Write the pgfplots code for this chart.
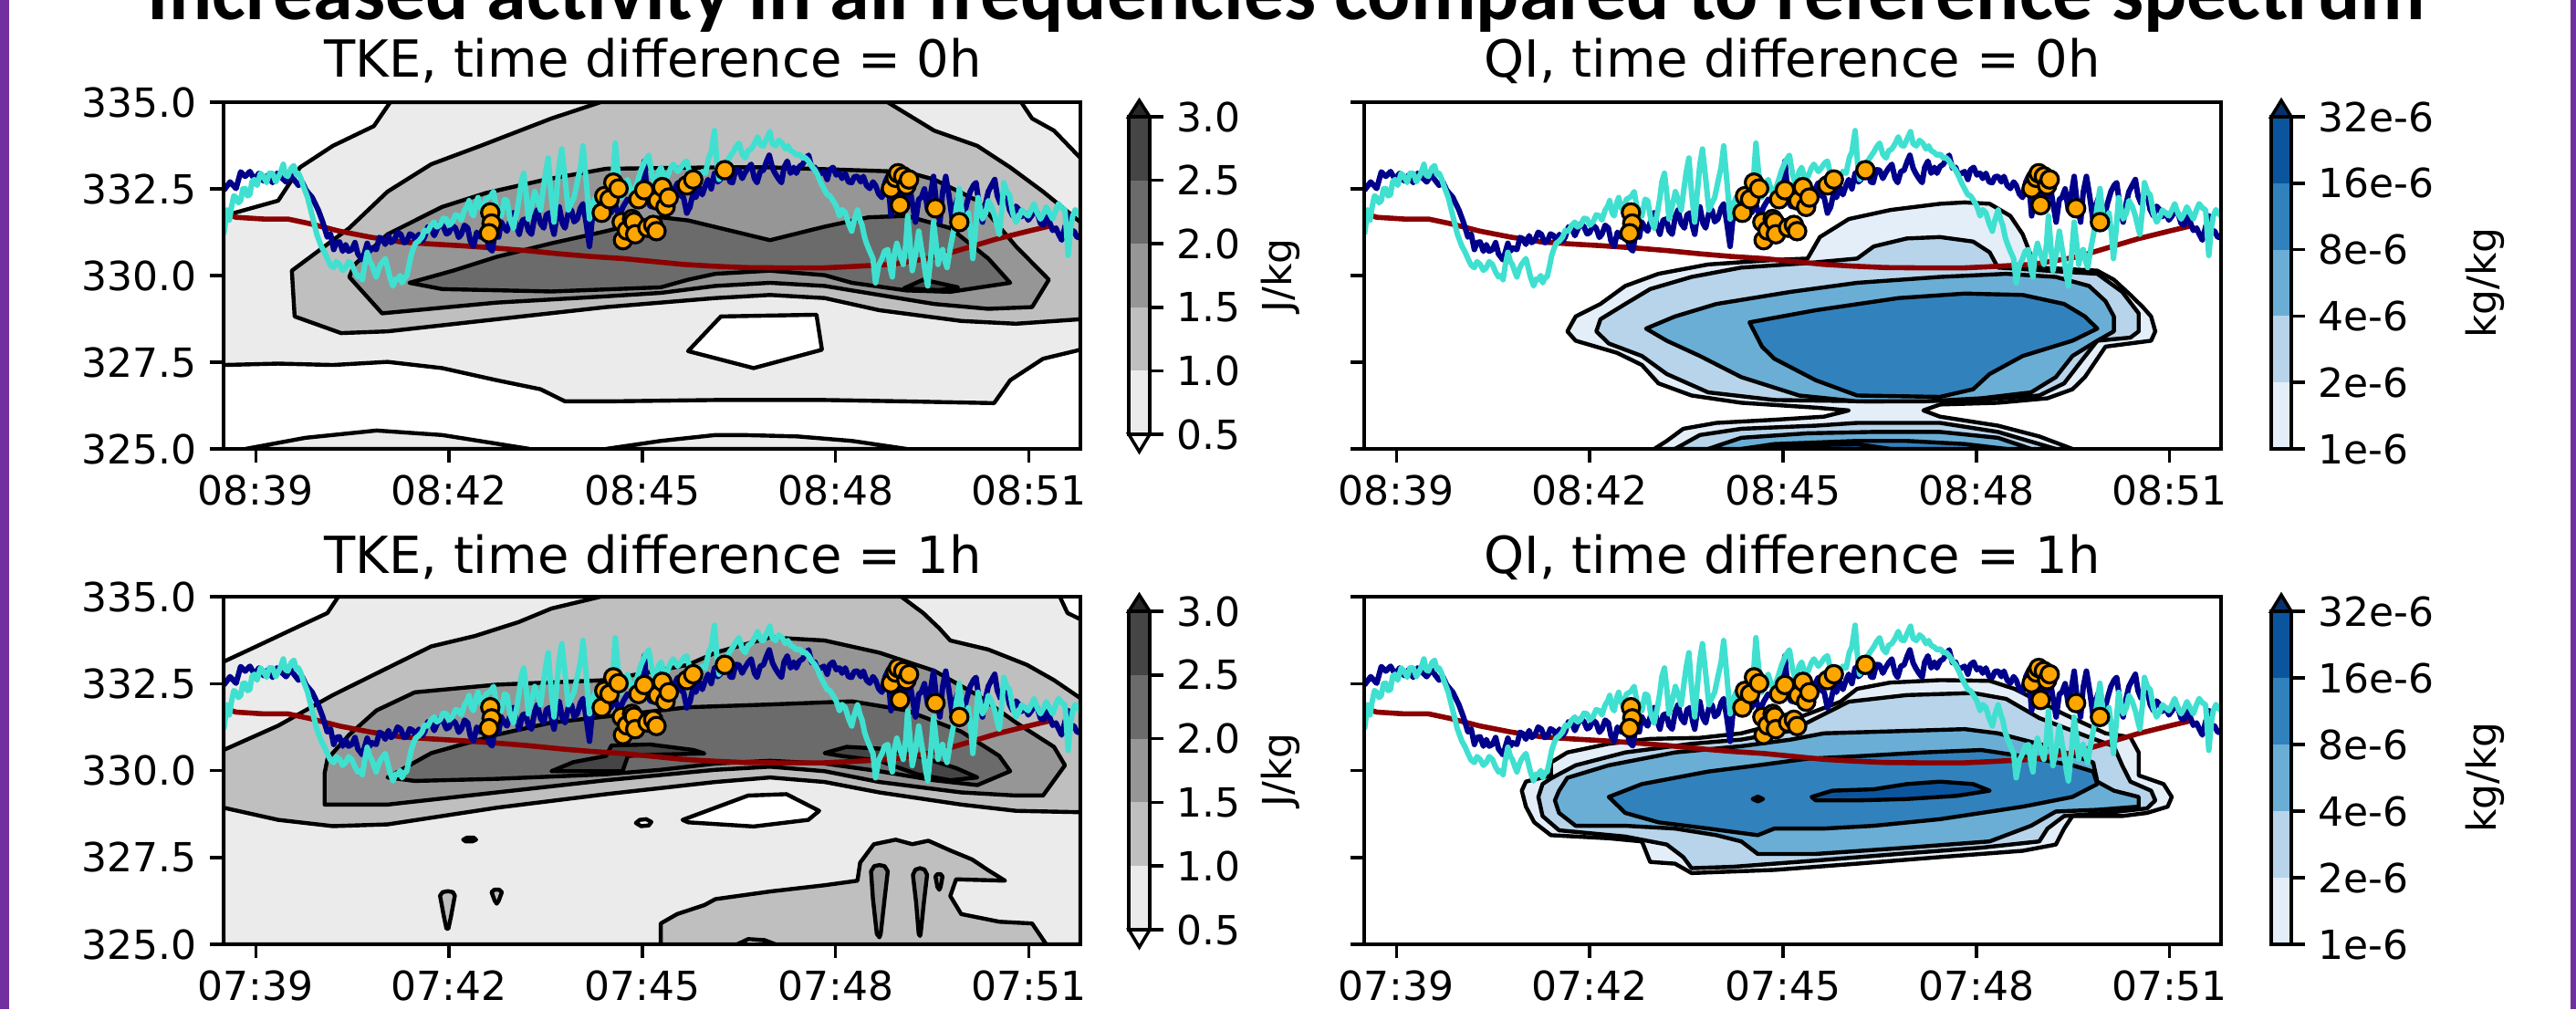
\documentclass[border=0pt]{standalone}
\usepackage{fontspec}
\setmainfont{DejaVu Sans}
\newfontfamily\calibri{Carlito}
\usepackage{pgfplots}
\usepackage{pgfplotstable}
\pgfplotsset{compat=1.18}

\definecolor{gA}{HTML}{EBEBEB}
\definecolor{gB}{HTML}{BFBFBF}
\definecolor{gC}{HTML}{969696}
\definecolor{gD}{HTML}{6B6B6B}
\definecolor{gE}{HTML}{454545}
\definecolor{gF}{HTML}{272727}
\definecolor{bA}{HTML}{E3EEF9}
\definecolor{bB}{HTML}{B7D4EA}
\definecolor{bC}{HTML}{6AAED6}
\definecolor{bD}{HTML}{3181BD}
\definecolor{bE}{HTML}{0B559F}
\definecolor{bF}{HTML}{08306B}
\definecolor{navyl}{RGB}{0,0,139}
\definecolor{turq}{HTML}{40E0D0}
\definecolor{dred}{HTML}{8B0000}
\definecolor{orng}{HTML}{FFA500}
\definecolor{purp}{HTML}{7030A0}

\pgfplotstableread[row sep=\\]{x y\\
-0.495 332.46\\ -0.40 332.70\\ -0.306 332.51\\ -0.235 332.99\\ -0.164 332.86\\ -0.09 333.00\\ -0.022 332.77\\ 0.05 332.95\\ 0.12 332.73\\ 0.19 332.90\\
0.261 332.68\\ 0.33 332.95\\ 0.403 332.82\\ 0.47 332.70\\ 0.545 332.90\\ 0.60 332.75\\ 0.663 332.60\\ 0.72 332.70\\ 0.781 332.46\\ 0.876 332.25\\
0.97 331.89\\ 1.04 331.54\\ 1.11 331.11\\ 1.16 331.20\\ 1.21 330.75\\ 1.25 330.95\\ 1.30 330.97\\ 1.35 330.70\\ 1.395 330.89\\ 1.44 330.70\\
1.49 330.75\\ 1.54 330.95\\ 1.585 330.62\\ 1.655 330.45\\ 1.73 330.93\\ 1.77 330.70\\ 1.80 330.80\\ 1.87 330.75\\ 1.92 331.10\\ 1.96 331.06\\
2.01 330.90\\ 2.06 331.15\\ 2.10 330.95\\ 2.15 331.02\\ 2.20 331.25\\ 2.25 331.19\\ 2.30 330.95\\ 2.34 330.97\\ 2.39 331.20\\ 2.44 331.15\\
2.49 330.98\\ 2.53 331.19\\ 2.58 331.00\\ 2.62 331.11\\ 2.67 331.40\\ 2.72 331.37\\ 2.77 331.15\\ 2.81 331.32\\ 2.86 331.50\\ 2.91 331.41\\
2.96 331.20\\ 3.00 331.24\\ 3.05 331.45\\ 3.10 331.37\\ 3.15 331.10\\ 3.19 331.19\\ 3.24 331.45\\ 3.29 331.37\\ 3.33 331.00\\ 3.38 330.84\\
3.43 331.25\\ 3.48 331.11\\ 3.53 331.35\\ 3.57 331.19\\ 3.62 330.80\\ 3.67 330.71\\ 3.72 331.30\\ 3.77 331.11\\ 3.81 331.54\\ 3.86 331.37\\
3.90 331.28\\ 3.95 331.60\\ 4.00 331.81\\ 4.05 331.40\\ 4.09 331.19\\ 4.14 331.60\\ 4.19 331.63\\ 4.23 331.30\\ 4.28 331.19\\ 4.33 331.70\\
4.37 331.89\\ 4.42 331.50\\ 4.47 331.37\\ 4.51 331.75\\ 4.56 331.81\\ 4.60 331.40\\ 4.63 331.19\\ 4.67 331.70\\ 4.71 331.98\\ 4.76 331.50\\
4.80 331.37\\ 4.85 331.80\\ 4.90 331.89\\ 4.94 331.55\\ 4.99 331.63\\ 5.04 331.95\\ 5.08 332.07\\ 5.13 331.50\\ 5.18 330.84\\ 5.22 331.60\\
5.27 331.98\\ 5.32 331.70\\ 5.37 331.89\\ 5.44 332.10\\ 5.51 331.80\\ 5.58 332.05\\ 5.64 331.70\\ 5.70 331.98\\ 5.77 332.20\\ 5.84 332.16\\
5.90 332.40\\ 5.95 332.05\\ 6.03 333.30\\ 6.08 332.25\\ 6.12 332.00\\ 6.17 331.98\\ 6.24 332.30\\ 6.31 332.07\\ 6.38 332.40\\ 6.46 332.25\\
6.50 332.50\\ 6.55 332.68\\ 6.60 332.30\\ 6.64 332.25\\ 6.69 331.80\\ 6.74 331.98\\ 6.79 332.40\\ 6.83 332.25\\ 6.88 332.55\\ 6.93 332.33\\
6.98 332.60\\ 7.02 332.77\\ 7.07 332.50\\ 7.12 332.95\\ 7.17 332.70\\ 7.21 332.77\\ 7.26 333.00\\ 7.31 333.12\\ 7.36 332.70\\ 7.40 332.68\\
7.45 333.05\\ 7.50 333.04\\ 7.55 332.80\\ 7.59 332.95\\ 7.64 333.10\\ 7.69 333.21\\ 7.74 332.80\\ 7.78 332.68\\ 7.83 333.00\\ 7.88 333.04\\
7.93 333.30\\ 7.97 333.47\\ 8.02 333.10\\ 8.06 332.95\\ 8.11 332.80\\ 8.16 332.68\\ 8.20 333.12\\ 8.25 333.30\\ 8.30 332.95\\ 8.35 333.12\\
8.39 332.95\\ 8.44 333.15\\ 8.49 333.21\\ 8.53 333.35\\ 8.58 333.47\\ 8.63 333.10\\ 8.68 333.12\\ 8.72 332.90\\ 8.77 332.95\\ 8.82 333.00\\
8.87 332.77\\ 8.91 333.05\\ 8.96 333.12\\ 9.01 332.90\\ 9.06 332.95\\ 9.10 332.80\\ 9.15 332.95\\ 9.20 332.70\\ 9.25 332.68\\ 9.29 332.85\\
9.34 332.86\\ 9.39 332.70\\ 9.43 332.86\\ 9.48 332.60\\ 9.53 332.51\\ 9.58 332.70\\ 9.62 332.60\\ 9.67 332.35\\ 9.72 332.25\\ 9.77 332.70\\
9.81 332.86\\ 9.86 331.72\\ 9.91 332.40\\ 9.95 332.25\\ 10.00 332.60\\ 10.05 331.89\\ 10.10 332.30\\ 10.14 332.68\\ 10.19 332.10\\ 10.24 331.54\\
10.29 332.20\\ 10.33 332.25\\ 10.38 332.50\\ 10.43 331.89\\ 10.48 332.40\\ 10.52 332.86\\ 10.57 332.00\\ 10.62 331.54\\ 10.66 332.40\\ 10.71 332.86\\
10.76 332.30\\ 10.81 331.63\\ 10.85 332.00\\ 10.90 332.25\\ 10.95 332.00\\ 10.99 331.72\\ 11.04 332.10\\ 11.09 332.42\\ 11.14 332.60\\ 11.18 332.68\\
11.23 332.00\\ 11.28 331.54\\ 11.33 332.10\\ 11.37 332.42\\ 11.42 332.60\\ 11.47 332.77\\ 11.51 332.30\\ 11.56 332.07\\ 11.61 332.30\\ 11.66 332.25\\
11.70 331.90\\ 11.75 331.72\\ 11.80 332.00\\ 11.85 331.89\\ 11.89 331.70\\ 11.94 331.81\\ 11.99 331.60\\ 12.04 331.72\\ 12.08 331.85\\ 12.13 331.81\\
12.18 331.50\\ 12.23 331.46\\ 12.27 331.70\\ 12.32 331.54\\ 12.37 331.30\\ 12.42 331.37\\ 12.46 331.20\\ 12.51 331.02\\ 12.56 331.40\\ 12.61 331.72\\
12.65 331.30\\ 12.70 331.28\\ 12.75 331.10\\ 12.80 331.11\\
}\navytab

\pgfplotstableread[row sep=\\]{x y\\
-0.495 331.19\\ -0.447 331.89\\ -0.41 331.60\\ -0.377 331.98\\ -0.34 332.30\\ -0.306 332.25\\ -0.27 332.10\\ -0.235 332.16\\ -0.20 332.50\\ -0.164 332.51\\
-0.13 332.30\\ -0.093 332.33\\ -0.06 332.70\\ -0.022 332.77\\ 0.02 332.60\\ 0.073 332.95\\ 0.12 332.85\\ 0.167 332.68\\ 0.21 332.95\\ 0.261 332.95\\
0.31 332.70\\ 0.356 332.86\\ 0.39 333.00\\ 0.427 333.21\\ 0.46 332.90\\ 0.497 332.86\\ 0.55 333.10\\ 0.592 333.17\\ 0.63 332.90\\ 0.663 332.95\\
0.70 332.80\\ 0.734 332.60\\ 0.805 332.25\\ 0.876 331.72\\ 0.947 331.19\\ 1.017 330.84\\ 1.06 330.70\\ 1.11 330.49\\ 1.16 330.30\\ 1.21 330.23\\
1.25 330.40\\ 1.30 330.32\\ 1.35 330.15\\ 1.395 330.23\\ 1.44 330.40\\ 1.49 330.32\\ 1.54 330.10\\ 1.585 329.96\\ 1.62 330.00\\ 1.655 329.88\\
1.69 330.30\\ 1.73 330.67\\ 1.77 330.40\\ 1.80 330.32\\ 1.84 330.10\\ 1.87 329.96\\ 1.91 330.20\\ 1.94 330.32\\ 2.01 330.49\\ 2.05 330.20\\
2.08 329.96\\ 2.13 329.70\\ 2.17 329.90\\ 2.20 329.88\\ 2.24 330.00\\ 2.27 329.79\\ 2.31 329.95\\ 2.34 329.96\\ 2.38 330.30\\ 2.41 330.58\\
2.45 330.80\\ 2.48 330.93\\ 2.53 331.00\\ 2.58 331.11\\ 2.62 331.30\\ 2.67 331.28\\ 2.72 331.45\\ 2.77 331.54\\ 2.81 331.40\\ 2.86 331.46\\
2.91 331.65\\ 2.96 331.63\\ 3.00 331.45\\ 3.05 331.54\\ 3.10 331.75\\ 3.15 331.72\\ 3.19 331.60\\ 3.24 331.89\\ 3.28 332.00\\ 3.31 332.16\\
3.35 331.80\\ 3.38 331.72\\ 3.42 332.10\\ 3.45 332.25\\ 3.49 331.95\\ 3.52 331.89\\ 3.57 332.20\\ 3.62 332.25\\ 3.65 332.30\\ 3.69 332.42\\
3.73 332.00\\ 3.77 331.89\\ 3.81 331.72\\ 3.86 332.20\\ 3.90 332.16\\ 3.95 331.60\\ 4.00 331.37\\ 4.05 331.80\\ 4.09 332.25\\ 4.12 332.70\\
4.16 332.95\\ 4.20 332.30\\ 4.23 331.63\\ 4.28 332.00\\ 4.33 332.42\\ 4.37 332.20\\ 4.42 331.89\\ 4.47 332.60\\ 4.50 333.00\\ 4.54 333.39\\
4.58 332.40\\ 4.63 331.54\\ 4.67 332.40\\ 4.71 333.20\\ 4.75 333.65\\ 4.80 332.80\\ 4.85 331.89\\ 4.90 332.10\\ 4.94 332.25\\ 4.99 332.70\\
5.04 333.12\\ 5.08 333.74\\ 5.13 332.70\\ 5.18 331.63\\ 5.22 332.00\\ 5.27 332.25\\ 5.32 332.10\\ 5.37 331.89\\ 5.44 332.00\\ 5.51 332.25\\
5.55 333.00\\ 5.58 333.82\\ 5.62 333.00\\ 5.67 332.25\\ 5.72 332.60\\ 5.77 332.77\\ 5.83 332.40\\ 5.89 332.51\\ 5.94 332.80\\ 5.98 333.04\\
6.04 333.30\\ 6.10 333.47\\ 6.15 332.90\\ 6.20 332.60\\ 6.25 333.00\\ 6.29 333.12\\ 6.34 332.80\\ 6.39 332.86\\ 6.44 333.10\\ 6.48 333.21\\
6.55 333.00\\ 6.60 333.12\\ 6.65 333.25\\ 6.69 333.30\\ 6.74 332.90\\ 6.79 332.68\\ 6.84 332.90\\ 6.88 332.86\\ 6.93 333.00\\ 6.98 332.95\\
7.03 333.40\\ 7.07 333.56\\ 7.12 334.18\\ 7.16 333.20\\ 7.19 332.77\\ 7.24 333.10\\ 7.29 333.21\\ 7.35 333.40\\ 7.41 333.56\\ 7.45 333.70\\
7.50 333.82\\ 7.55 333.50\\ 7.60 333.39\\ 7.64 333.60\\ 7.69 333.65\\ 7.74 333.80\\ 7.79 334.00\\ 7.84 333.75\\ 7.88 333.74\\ 7.93 333.95\\
7.98 334.15\\ 8.02 333.80\\ 8.07 333.74\\ 8.12 333.90\\ 8.17 333.82\\ 8.22 333.65\\ 8.26 333.74\\ 8.30 333.60\\ 8.35 333.55\\ 8.39 333.47\\
8.44 333.50\\ 8.49 333.39\\ 8.53 333.40\\ 8.58 333.30\\ 8.63 333.15\\ 8.68 333.04\\ 8.72 332.90\\ 8.77 332.68\\ 8.82 332.50\\ 8.87 332.33\\
8.91 332.30\\ 8.96 332.16\\ 9.01 332.00\\ 9.06 331.72\\ 9.10 331.90\\ 9.15 331.81\\ 9.20 331.50\\ 9.25 331.28\\ 9.29 331.60\\ 9.34 331.89\\
9.38 331.60\\ 9.41 331.46\\ 9.45 331.10\\ 9.48 330.93\\ 9.53 330.70\\ 9.58 330.49\\ 9.62 329.79\\ 9.67 330.30\\ 9.72 330.49\\ 9.76 330.70\\
9.81 330.75\\ 9.85 330.20\\ 9.88 329.96\\ 9.91 330.60\\ 9.95 330.93\\ 10.00 330.60\\ 10.05 330.32\\ 10.09 330.90\\ 10.12 331.72\\ 10.16 330.80\\
10.19 330.14\\ 10.24 330.60\\ 10.29 331.28\\ 10.33 330.80\\ 10.36 330.49\\ 10.40 330.00\\ 10.43 329.70\\ 10.48 330.60\\ 10.52 331.54\\ 10.56 330.90\\
10.59 330.32\\ 10.62 330.60\\ 10.66 330.75\\ 10.70 330.40\\ 10.73 330.23\\ 10.78 330.80\\ 10.83 331.28\\ 10.87 331.90\\ 10.92 332.51\\ 10.95 332.00\\
10.99 331.37\\ 11.03 331.60\\ 11.06 331.81\\ 11.10 331.20\\ 11.13 330.49\\ 11.17 331.30\\ 11.21 332.25\\ 11.25 331.90\\ 11.28 331.63\\ 11.33 331.80\\
11.37 332.16\\ 11.42 332.00\\ 11.47 331.72\\ 11.51 331.40\\ 11.54 331.19\\ 11.58 331.90\\ 11.61 332.68\\ 11.66 332.40\\ 11.70 332.33\\ 11.75 331.80\\
11.80 331.54\\ 11.85 331.70\\ 11.89 331.89\\ 11.94 331.80\\ 11.99 331.72\\ 12.04 331.90\\ 12.08 332.07\\ 12.13 331.80\\ 12.18 331.63\\ 12.23 331.80\\
12.27 331.98\\ 12.32 331.80\\ 12.37 331.63\\ 12.42 331.90\\ 12.46 332.07\\ 12.51 331.95\\ 12.56 331.89\\ 12.61 330.58\\ 12.65 331.40\\ 12.68 331.72\\
12.72 331.90\\ 12.75 331.81\\ 12.80 331.72\\
}\turqtab

\pgfplotstableread[row sep=\\]{x y\\
-0.40 331.74\\ -0.306 331.68\\ 0.12 331.63\\ 0.497 331.63\\ 0.83 331.50\\ 1.30 331.28\\ 1.77 331.11\\ 2.25 330.97\\ 2.72 330.91\\ 3.19 330.86\\
3.67 330.80\\ 4.20 330.72\\ 4.75 330.62\\ 5.20 330.55\\ 5.70 330.49\\ 6.20 330.40\\ 6.64 330.32\\ 7.10 330.27\\ 7.59 330.23\\ 8.20 330.22\\
8.80 330.22\\ 9.15 330.25\\ 9.86 330.32\\ 10.20 330.42\\ 10.57 330.54\\ 11.04 330.80\\ 11.51 331.06\\ 11.99 331.28\\ 12.35 331.44\\
}\redtab

\pgfplotstableread[row sep=\\]{x y\\
3.64 331.82\\ 3.66 331.50\\ 3.62 331.22\\ 5.37 331.81\\ 5.41 332.29\\ 5.49 332.20\\ 5.55 332.68\\ 5.63 332.51\\ 5.68 331.54\\ 5.70 331.02\\
5.76 331.30\\ 5.84 331.63\\ 5.87 331.55\\ 5.89 331.19\\ 5.94 332.20\\ 6.03 332.46\\ 6.08 331.38\\ 6.17 331.46\\ 6.22 331.28\\ 6.24 332.16\\
6.31 332.55\\ 6.36 331.98\\ 6.41 332.25\\ 6.69 332.60\\ 6.79 332.77\\ 7.28 333.04\\ 9.86 332.51\\ 9.93 332.82\\ 9.97 332.95\\ 10.05 332.86\\
10.10 332.60\\ 10.14 332.77\\ 10.00 332.03\\ 10.55 331.94\\ 10.92 331.54\\
}\orngtab

\pgfplotsset{
  panel/.style={scale only axis, width=234.75pt, xmin=-0.5, xmax=12.8, ymin=325, ymax=335,
    axis line style={line width=0.88pt}, every tick/.style={black, line width=0.88pt},
    tick align=outside, major tick length=3.75pt, tick pos=left,
    xtick={0,3,6,9,12}, ytick={325,327.5,330,332.5,335},
    tick label style={font=\fontsize{11}{13}\selectfont},
    axis on top, clip=true},
  ct/.style={draw=black, line width=1.1pt, line join=round, fill=#1},
  cbar/.style={scale only axis, xmin=0, xmax=1, xtick=\empty, tick pos=right, tick align=outside,
    major tick length=3.75pt, axis line style={line width=0.88pt}, every tick/.style={black, line width=0.88pt},
    tick label style={font=\fontsize{11}{13}\selectfont}, clip=false, axis on top},
}

\newcommand{\drawlines}{%
  \addplot[dred, line width=1.4pt, line join=round] table {\redtab};
  \addplot[navyl, line width=1.5pt, line join=round] table {\navytab};
  \addplot[turq, line width=1.5pt, line join=round] table {\turqtab};
  \addplot[only marks, mark=*, mark size=2.4pt, mark options={fill=orng, draw=black, line width=0.8pt}] table {\orngtab};
}

\begin{document}
\begin{tikzpicture}
\fill[white] (0,0) rectangle (705.75pt,276.5pt);
\fill[purp] (0,0) rectangle (2.5pt,276.5pt);
\fill[purp] (704.25pt,0) rectangle (705.75pt,276.5pt);
\node[anchor=base, inner sep=0pt] at (352.5pt,271pt) {\calibri\bfseries\fontsize{22}{26}\selectfont Increased activity in all frequencies compared to reference spectrum};

% ---------- Panel 1: TKE 0h
\begin{axis}[panel, at={(61.25pt,153.5pt)}, anchor=south west, height=95pt,
  xticklabels={08:39,08:42,08:45,08:48,08:51}, yticklabels={325.0,327.5,330.0,332.5,335.0}]
\addplot[ct=gA] coordinates {(2.087,335) (1.833,334.31) (1.196,333.74) (0.687,333.12) (0.348,332.16) (-0.5,331.72) (-0.5,327.42) (0.348,327.46) (1.196,327.42) (2.045,327.51) (2.893,327.33) (3.741,326.98) (4.42,326.72) (4.801,326.37) (5.437,326.37) (7.134,326.41) (8.83,326.41) (10.10,326.37) (11.46,326.32) (11.71,326.98) (12.22,327.6) (12.8,327.86) (12.8,333.39) (12.39,334.18) (12.05,334.53) (11.88,335)} --cycle;
\addplot[ct=gA] coordinates {(-0.161,325) (0.772,325.32) (1.875,325.53) (2.893,325.4) (4.08,325.05) (4.25,325)} --cycle;
\addplot[ct=gA] coordinates {(5.437,325) (6.286,325.23) (7.134,325.4) (7.558,325.4) (8.406,325.36) (9.254,325.23) (10.1,325)} --cycle;
\addplot[ct=gB] coordinates {(5.353,335) (4.589,334.53) (3.487,333.74) (2.723,333.21) (2.045,332.42) (1.451,331.37) (0.560,330.14) (0.603,328.82) (1.324,328.34) (2.045,328.39) (3.741,328.74) (5.437,329.09) (7.134,329.35) (7.982,329.44) (8.830,329.35) (9.678,329.00) (10.95,328.69) (11.80,328.61) (12.80,328.74) (12.80,331.54) (12.22,332.42) (11.71,333.12) (11.20,333.74) (10.53,334.18) (9.806,335)} --cycle;
\addplot[ct=gC] coordinates {(5.437,333.08) (4.504,332.77) (3.571,332.38) (2.893,331.98) (2.045,331.19) (1.536,330.32) (1.451,329.96) (1.960,328.91) (3.741,329.22) (5.437,329.40) (6.286,329.50) (7.134,329.70) (7.982,329.79) (8.830,329.70) (9.678,329.44) (10.53,329.18) (11.37,329.04) (12.05,329.09) (12.31,329.88) (11.80,330.84) (11.20,332.16) (10.53,332.77) (10.10,332.99) (7.982,333.12) (7.134,333.12)} --cycle;
\addplot[ct=gD] coordinates {(2.384,329.79) (3.062,330.14) (3.741,330.54) (4.589,330.93) (5.437,331.28) (6.286,331.68) (6.710,331.59) (7.982,331.02) (8.830,331.41) (9.509,331.68) (10.10,331.72) (10.78,331.37) (11.37,330.49) (11.71,329.79) (10.78,329.53) (10.10,329.57) (9.254,329.79) (8.830,330.01) (7.982,330.14) (7.134,330.05) (6.710,329.88) (6.286,329.66) (4.589,329.54) (2.893,329.61)} --cycle;
\addplot[ct=gE] coordinates {(10.06,329.63) (10.36,329.88) (10.90,329.66) (10.61,329.58)} --cycle;
\addplot[ct=white] coordinates {(7.219,328.82) (8.703,328.87) (8.788,327.86) (7.727,327.33) (6.71,327.82)} --cycle;
\drawlines
\end{axis}

% ---------- Panel 2: QI 0h
\begin{axis}[panel, at={(373.75pt,153.5pt)}, anchor=south west, height=95pt,
  xticklabels={08:39,08:42,08:45,08:48,08:51}, yticklabels={{},{},{},{},{}}]
\addplot[ct=bA] coordinates {(6.381,330.49) (6.573,331.11) (7.022,331.63) (7.665,331.89) (8.437,332.07) (8.822,332.11) (9.208,332.07) (9.529,331.72) (9.721,331.19) (9.850,330.58) (9.978,330.23) (10.879,330.14) (11.136,329.88) (11.393,329.44) (11.586,329.09) (11.714,328.82) (11.779,328.39) (11.714,328.12) (11.007,327.95) (10.879,327.60) (10.686,327.07) (10.493,326.72) (10.106,326.46) (9.337,326.33) (8.437,326.28) (8.179,326.11) (8.437,325.93) (9.337,325.67) (9.978,325.36) (10.493,325.0) (4.003,325.0) (4.196,325.23) (4.452,325.58) (4.966,325.75) (5.867,325.84) (6.637,325.93) (7.022,326.11) (6.509,326.19) (5.353,326.33) (4.581,326.54) (4.067,326.89) (3.810,327.42) (3.424,327.77) (2.782,328.12) (2.653,328.39) (2.782,328.82) (3.167,329.18) (3.552,329.70) (4.067,330.05) (4.839,330.32) (5.867,330.45)} --cycle;
\addplot[ct=bB] coordinates {(7.151,330.49) (7.409,330.84) (7.923,331.07) (8.437,331.11) (8.951,330.98) (9.208,330.67) (9.337,330.23) (10.879,330.05) (11.265,329.53) (11.521,328.91) (11.521,328.39) (11.393,328.21) (10.879,328.12) (10.621,327.51) (10.364,326.89) (9.978,326.54) (9.079,326.41) (7.409,326.37) (5.867,326.41) (4.839,326.63) (4.196,327.16) (3.810,327.68) (3.296,328.04) (3.103,328.39) (3.167,328.74) (3.552,329.18) (3.938,329.61) (4.581,329.96) (5.353,330.23) (6.381,330.36)} --cycle;
\addplot[ct=bC] coordinates {(3.874,328.47) (4.324,328.82) (4.966,329.18) (6.123,329.53) (7.151,329.79) (8.437,329.96) (9.464,330.05) (10.235,329.96) (10.75,329.70) (11.007,329.26) (11.136,328.82) (11.136,328.39) (10.879,328.12) (10.493,327.68) (10.235,327.07) (9.850,326.63) (9.079,326.46) (8.179,326.37) (7.151,326.37) (6.252,326.54) (5.353,327.07) (4.710,327.68) (4.196,328.12)} --cycle;
\addplot[ct=bD] coordinates {(5.48,328.65) (6.509,329.00) (7.794,329.35) (8.822,329.48) (9.721,329.44) (10.364,329.18) (10.686,328.82) (10.879,328.47) (10.493,328.12) (9.721,327.68) (9.208,327.16) (8.951,326.72) (8.437,326.50) (7.151,326.54) (6.509,326.98) (5.867,327.60) (5.674,327.95)} --cycle;
\addplot[ct=bB] coordinates {(4.324,325) (4.71,325.40) (5.353,325.58) (6.509,325.67) (7.151,325.75) (8.437,325.75) (9.337,325.49) (9.978,325.14) (10.235,325)} --cycle;
\addplot[ct=bC] coordinates {(4.839,325) (5.353,325.32) (6.381,325.45) (7.409,325.49) (8.437,325.49) (9.337,325.32) (9.85,325)} --cycle;
\addplot[ct=bD] coordinates {(5.353,325) (5.867,325.14) (7.151,325.23) (7.923,325.23) (8.822,325.14) (9.464,325)} --cycle;
\addplot[ct=bE] coordinates {(5.738,325) (6.123,325.10) (7.151,325.14) (7.665,325)} --cycle;
\drawlines
\end{axis}

% ---------- Panel 3: TKE 1h
\begin{axis}[panel, at={(61.25pt,17.75pt)}, anchor=south west, height=95.25pt,
  xticklabels={07:39,07:42,07:45,07:48,07:51}, yticklabels={325.0,327.5,330.0,332.5,335.0}]
\addplot[ct=gA] coordinates {(1.281,335) (1.112,334.53) (0.603,334.09) (0.009,333.57) (-0.5,333.13) (-0.5,325) (12.8,325) (12.8,334.35) (12.60,334.53) (12.48,335)} --cycle;
\addplot[ct=gB] coordinates {(5.353,335) (4.589,334.66) (4.08,334.27) (3.402,333.87) (2.723,333.57) (2.045,332.95) (1.196,332.17) (0.348,331.29) (-0.5,330.59) (-0.5,328.93) (0.348,328.58) (1.196,328.40) (2.045,328.45) (3.741,328.93) (5.437,329.32) (7.134,329.67) (7.982,329.80) (8.83,329.67) (9.678,329.37) (10.95,329.02) (11.80,328.84) (12.8,328.80) (12.8,332.08) (12.39,332.60) (11.97,333.04) (11.37,333.48) (10.78,333.74) (10.61,334.09) (10.36,334.53) (10.02,335)} --cycle;
\addplot[ct=gC] coordinates {(1.069,329.02) (2.045,329.02) (3.741,329.37) (5.437,329.72) (7.134,330.02) (7.982,330.11) (8.83,329.98) (9.678,329.67) (10.95,329.37) (11.80,329.28) (12.22,329.28) (12.56,330.15) (12.39,330.68) (11.80,331.38) (11.20,332.17) (10.53,332.87) (9.678,333.39) (8.83,333.74) (7.982,333.83) (7.134,333.39) (6.71,333.04) (5.437,332.60) (3.741,332.47) (2.469,332.25) (1.875,331.73) (1.451,331.03) (1.112,330.33) (1.069,329.93)} --cycle;
\addplot[ct=gD] coordinates {(2.045,329.80) (2.723,330.50) (3.741,331.03) (4.589,331.38) (5.862,331.64) (6.71,331.82) (7.982,331.90) (9.254,331.99) (10.10,331.73) (10.95,331.12) (11.54,330.42) (11.71,329.98) (11.20,329.58) (10.53,329.72) (9.678,329.98) (8.83,330.20) (7.982,330.28) (7.134,330.20) (6.286,330.02) (5.437,329.89) (3.741,329.76) (2.469,329.70)} --cycle;
\addplot[ct=gE] coordinates {(4.589,329.98) (4.928,330.24) (5.437,330.42) (5.522,330.72) (6.116,330.75) (6.794,330.59) (6.964,330.49) (6.286,330.46) (5.777,330.42) (5.692,329.98)} --cycle;
\addplot[ct=gE] coordinates {(8.83,330.50) (9.169,330.68) (9.678,330.63) (10.27,330.42) (10.87,330.07) (11.20,329.80) (10.78,329.72) (10.27,329.89) (9.678,330.28) (9.085,330.42)} --cycle;
\addplot[ct=gB] coordinates {(6.286,325.0) (6.286,325.60) (6.54,325.87) (6.964,326.13) (7.134,326.30) (7.982,326.52) (8.83,326.70) (9.339,326.83) (9.381,327.35) (9.594,327.88) (9.933,328.01) (10.19,327.88) (10.44,327.98) (10.78,327.70) (11.12,327.44) (11.37,327.13) (11.63,326.83) (10.87,326.87) (10.78,326.39) (10.95,325.87) (11.54,325.65) (12.05,325.60) (12.27,325.0)} --cycle;
\addplot[ct=gC] coordinates {(9.55,327.1) (9.60,327.25) (9.68,327.28) (9.76,327.25) (9.81,327.1) (9.76,326.3) (9.70,325.3) (9.68,325.2) (9.64,325.3) (9.58,326.3)} --cycle;
\addplot[ct=gC] coordinates {(10.20,327.0) (10.24,327.15) (10.31,327.19) (10.38,327.15) (10.42,327.0) (10.37,326.2) (10.32,325.3) (10.31,325.24) (10.29,325.3) (10.25,326.2)} --cycle;
\addplot[ct=gC] coordinates {(10.55,326.95) (10.58,327.02) (10.63,327.02) (10.66,326.95) (10.63,326.65) (10.61,326.57) (10.58,326.65)} --cycle;
\addplot[ct=gB] coordinates {(2.86,326.4) (2.90,326.5) (2.98,326.53) (3.06,326.5) (3.09,326.4) (3.03,325.8) (2.99,325.45) (2.96,325.45) (2.92,325.8)} --cycle;
\addplot[ct=gB] coordinates {(3.66,326.5) (3.70,326.57) (3.78,326.57) (3.82,326.5) (3.77,326.25) (3.74,326.17) (3.71,326.25)} --cycle;
\addplot[ct=white] coordinates {(7.473,325) (7.643,325.15) (7.897,325.12) (8.067,325)} --cycle;
\addplot[ct=white] coordinates {(6.625,328.58) (7.134,328.93) (7.643,329.28) (8.237,329.32) (8.745,328.84) (8.576,328.58) (7.727,328.39) (6.71,328.51)} --cycle;
\addplot[ct=white] coordinates {(5.90,328.49) (5.96,328.58) (6.06,328.60) (6.14,328.52) (6.10,328.42) (5.98,328.40)} --cycle;
\addplot[ct=white] coordinates {(3.22,328.01) (3.28,328.07) (3.38,328.07) (3.42,328.01) (3.36,327.96) (3.26,327.96)} --cycle;
\drawlines
\end{axis}

% ---------- Panel 4: QI 1h
\begin{axis}[panel, at={(373.75pt,17.75pt)}, anchor=south west, height=95.25pt,
  xticklabels={07:39,07:42,07:45,07:48,07:51}, yticklabels={{},{},{},{},{}}]
\addplot[ct=bA] coordinates {(2.397,330.23) (2.653,330.52) (3.296,330.77) (3.938,330.91) (4.710,330.94) (5.353,331.07) (6.123,331.44) (6.893,331.98) (7.151,332.35) (7.665,332.53) (8.437,332.60) (9.208,332.58) (9.593,332.35) (10.364,331.62) (11.007,331.07) (11.393,330.96) (11.521,330.52) (11.521,329.86) (11.908,329.61) (12.035,329.24) (11.971,328.96) (11.65,328.78) (11.265,328.69) (10.493,328.69) (10.364,328.33) (10.235,327.87) (9.721,327.69) (8.437,327.51) (7.151,327.32) (5.867,327.14) (4.581,327.05) (4.324,327.32) (3.938,327.37) (3.810,327.96) (3.296,328.05) (2.397,328.14) (2.139,328.51) (2.010,328.96) (1.946,329.42) (2.010,329.68) (2.397,329.86)} --cycle;
\addplot[ct=bB] coordinates {(2.397,329.77) (2.782,330.15) (3.552,330.52) (4.581,330.77) (5.353,330.89) (6.123,331.14) (7.022,331.98) (7.923,332.17) (8.951,332.23) (9.464,332.06) (9.978,331.51) (10.75,330.96) (11.136,330.70) (11.265,330.15) (11.393,329.68) (11.714,329.42) (11.779,329.14) (11.65,328.91) (11.007,328.78) (10.364,328.69) (10.106,328.33) (9.978,327.96) (9.079,327.78) (7.794,327.60) (6.509,327.41) (5.224,327.23) (4.581,327.19) (4.452,327.51) (4.196,327.87) (3.552,328.10) (2.524,328.28) (2.268,328.69) (2.203,329.24) (2.268,329.61)} --cycle;
\addplot[ct=bC] coordinates {(2.524,329.42) (2.653,329.79) (3.296,330.15) (4.324,330.52) (5.353,330.70) (6.123,330.89) (6.637,331.07) (7.923,331.14) (8.822,331.19) (9.337,331.07) (10.106,330.70) (10.815,330.23) (10.879,329.68) (11.136,329.42) (11.521,329.24) (11.521,328.96) (10.879,328.87) (10.235,328.82) (9.850,328.41) (9.208,327.96) (7.923,327.78) (6.509,327.60) (5.609,327.60) (5.353,327.96) (4.966,328.14) (4.324,328.33) (3.552,328.41) (2.782,328.41) (2.524,328.78) (2.460,329.14)} --cycle;
\addplot[ct=bD] coordinates {(3.296,329.24) (3.810,329.61) (4.839,329.97) (5.609,330.15) (6.381,330.34) (7.151,330.41) (8.179,330.52) (9.079,330.59) (9.721,330.41) (10.493,330.15) (10.815,329.97) (10.879,329.61) (10.493,329.24) (9.721,328.96) (9.079,328.78) (8.437,328.60) (7.409,328.41) (6.637,328.33) (5.867,328.33) (5.609,328.14) (4.839,328.33) (4.067,328.51) (3.552,328.78)} --cycle;
\addplot[ct=bE] coordinates {(6.445,329.24) (6.766,329.42) (7.409,329.46) (7.923,329.61) (8.437,329.68) (8.951,329.61) (9.208,329.42) (8.693,329.27) (7.923,329.18) (7.151,329.14) (6.509,329.14)} --cycle;
\addplot[ct=bE] coordinates {(5.53,329.18) (5.61,329.25) (5.69,329.18) (5.61,329.11)} --cycle;
\drawlines
\end{axis}

% ---------- Colorbars
\begin{axis}[cbar, at={(309.25pt,157.5pt)}, anchor=south west, width=5.75pt, height=87pt,
  ymin=0.5, ymax=3, ytick={0.5,1,1.5,2,2.5,3}, yticklabels={0.5,1.0,1.5,2.0,2.5,3.0}]
\addplot[fill=gA, draw=none] coordinates {(0,0.5) (1,0.5) (1,1) (0,1)} --cycle;
\addplot[fill=gB, draw=none] coordinates {(0,1) (1,1) (1,1.5) (0,1.5)} --cycle;
\addplot[fill=gC, draw=none] coordinates {(0,1.5) (1,1.5) (1,2) (0,2)} --cycle;
\addplot[fill=gD, draw=none] coordinates {(0,2) (1,2) (1,2.5) (0,2.5)} --cycle;
\addplot[fill=gE, draw=none] coordinates {(0,2.5) (1,2.5) (1,3) (0,3)} --cycle;
\addplot[fill=gF, draw=black, line width=0.88pt] coordinates {(0,3) (0.5,3.129) (1,3)} --cycle;
\addplot[fill=white, draw=black, line width=0.88pt] coordinates {(0,0.5) (0.5,0.363) (1,0.5)} --cycle;
\end{axis}
\begin{axis}[cbar, at={(309.25pt,21.75pt)}, anchor=south west, width=5.75pt, height=87.25pt,
  ymin=0.5, ymax=3, ytick={0.5,1,1.5,2,2.5,3}, yticklabels={0.5,1.0,1.5,2.0,2.5,3.0}]
\addplot[fill=gA, draw=none] coordinates {(0,0.5) (1,0.5) (1,1) (0,1)} --cycle;
\addplot[fill=gB, draw=none] coordinates {(0,1) (1,1) (1,1.5) (0,1.5)} --cycle;
\addplot[fill=gC, draw=none] coordinates {(0,1.5) (1,1.5) (1,2) (0,2)} --cycle;
\addplot[fill=gD, draw=none] coordinates {(0,2) (1,2) (1,2.5) (0,2.5)} --cycle;
\addplot[fill=gE, draw=none] coordinates {(0,2.5) (1,2.5) (1,3) (0,3)} --cycle;
\addplot[fill=gF, draw=black, line width=0.88pt] coordinates {(0,3) (0.5,3.129) (1,3)} --cycle;
\addplot[fill=white, draw=black, line width=0.88pt] coordinates {(0,0.5) (0.5,0.363) (1,0.5)} --cycle;
\end{axis}
\begin{axis}[cbar, at={(622.25pt,153.5pt)}, anchor=south west, width=5.5pt, height=91pt,
  ymin=0, ymax=5, ytick={0,1,2,3,4,5}, yticklabels={1e-6,2e-6,4e-6,8e-6,16e-6,32e-6}]
\addplot[fill=bA, draw=none] coordinates {(0,0) (1,0) (1,1) (0,1)} --cycle;
\addplot[fill=bB, draw=none] coordinates {(0,1) (1,1) (1,2) (0,2)} --cycle;
\addplot[fill=bC, draw=none] coordinates {(0,2) (1,2) (1,3) (0,3)} --cycle;
\addplot[fill=bD, draw=none] coordinates {(0,3) (1,3) (1,4) (0,4)} --cycle;
\addplot[fill=bE, draw=none] coordinates {(0,4) (1,4) (1,5) (0,5)} --cycle;
\addplot[fill=bF, draw=black, line width=0.88pt] coordinates {(0,5) (0.5,5.247) (1,5)} --cycle;
\end{axis}
\begin{axis}[cbar, at={(622.25pt,17.75pt)}, anchor=south west, width=5.5pt, height=91.25pt,
  ymin=0, ymax=5, ytick={0,1,2,3,4,5}, yticklabels={1e-6,2e-6,4e-6,8e-6,16e-6,32e-6}]
\addplot[fill=bA, draw=none] coordinates {(0,0) (1,0) (1,1) (0,1)} --cycle;
\addplot[fill=bB, draw=none] coordinates {(0,1) (1,1) (1,2) (0,2)} --cycle;
\addplot[fill=bC, draw=none] coordinates {(0,2) (1,2) (1,3) (0,3)} --cycle;
\addplot[fill=bD, draw=none] coordinates {(0,3) (1,3) (1,4) (0,4)} --cycle;
\addplot[fill=bE, draw=none] coordinates {(0,4) (1,4) (1,5) (0,5)} --cycle;
\addplot[fill=bF, draw=black, line width=0.88pt] coordinates {(0,5) (0.5,5.247) (1,5)} --cycle;
\end{axis}

% ---------- Titles and labels
\begin{scope}[every node/.style={font=\fontsize{14}{16}\selectfont, inner sep=0pt}]
\node[anchor=base] at (178.9pt,255.25pt) {TKE, time difference = 0h};
\node[anchor=base] at (491.1pt,255.25pt) {QI, time difference = 0h};
\node[anchor=base] at (178.9pt,119.35pt) {TKE, time difference = 1h};
\node[anchor=base] at (491.1pt,119.35pt) {QI, time difference = 1h};
\end{scope}
\begin{scope}[every node/.style={font=\fontsize{11}{13}\selectfont, inner sep=0pt, rotate=90}]
\node at (350.75pt,201pt) {J/kg};
\node at (350.75pt,65.5pt) {J/kg};
\node at (680.75pt,199pt) {kg/kg};
\node at (680.75pt,63.5pt) {kg/kg};
\end{scope}

\pgfresetboundingbox
\useasboundingbox (0,0) rectangle (705.75pt,276.5pt);
\end{tikzpicture}
\end{document}
